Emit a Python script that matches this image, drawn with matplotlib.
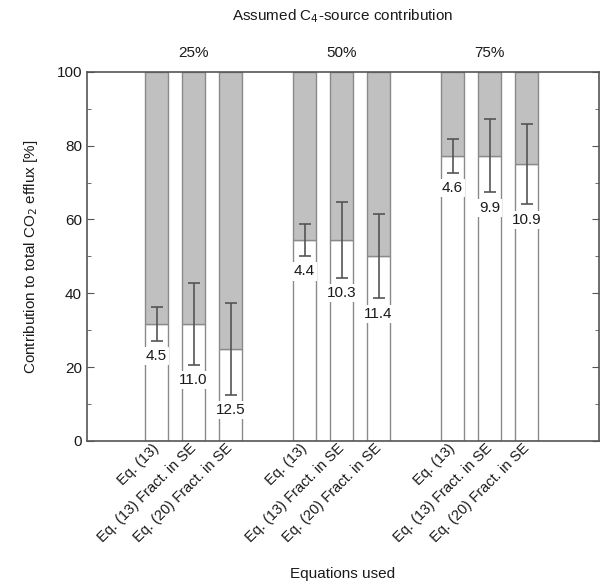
import matplotlib
matplotlib.use('Agg')
import matplotlib.pyplot as plt
from matplotlib.ticker import MultipleLocator

plt.rcParams['font.family'] = ['Liberation Sans', 'DejaVu Sans']

groups = ['25%', '50%', '75%']
eq_labels = ['Eq. (13)', 'Eq. (13) Fract. in SE', 'Eq. (20) Fract. in SE']
# C4 contribution per bar (white part), error = label value
values = [31.7, 31.7, 25.0, 54.5, 54.5, 50.0, 77.3, 77.3, 75.0]
errors = [4.5, 11.0, 12.5, 4.4, 10.3, 11.4, 4.6, 9.9, 10.9]
positions = [1, 2, 3, 5, 6, 7, 9, 10, 11]

fig = plt.figure(figsize=(6.04, 5.84), dpi=100)
ax = fig.add_axes([0.144, 0.245, 0.848, 0.632])

edge = '#8a8a8a'
width = 0.62
ax.bar(positions, values, width=width, color='white', edgecolor=edge, linewidth=1.0, zorder=2)
ax.bar(positions, [100 - v for v in values], bottom=values, width=width,
       color='#c0c0c0', edgecolor=edge, linewidth=1.0, zorder=2)
ax.errorbar(positions, values, yerr=errors, fmt='none', ecolor='#555555',
            elinewidth=1.2, capsize=4.3, capthick=1.2, zorder=3)

for p, v, e in zip(positions, values, errors):
    ax.text(p, v - e - 2.3, '%.1f' % e, ha='center', va='top', fontsize=11,
            color='#1a1a1a', zorder=4,
            bbox=dict(facecolor='white', edgecolor='none', pad=1.5))

for i, g in enumerate(groups):
    ax.text(positions[i * 3 + 1], 103.2, g, ha='center', va='bottom', fontsize=11,
            color='#1a1a1a', clip_on=False)
fig.text(0.567, 0.973, 'Assumed C$_4$-source contribution', ha='center', va='center',
         fontsize=11, color='#1a1a1a')

ax.set_xlim(-0.88, 12.96)
ax.set_ylim(0, 100)
ax.set_xticks(positions)
ax.set_xticklabels(eq_labels * 3, rotation=45, ha='right', va='center',
                   rotation_mode='anchor', fontsize=10.5, color='#1a1a1a')
ax.tick_params(axis='x', length=0, pad=4)
ax.yaxis.set_major_locator(MultipleLocator(20))
ax.yaxis.set_minor_locator(MultipleLocator(10))
ax.tick_params(axis='y', which='both', direction='in', right=True, labelsize=11,
               colors='#555555', labelcolor='#1a1a1a')
ax.tick_params(axis='y', which='major', length=5)
ax.tick_params(axis='y', which='minor', length=3)
for s in ax.spines.values():
    s.set_color('#555555')
    s.set_linewidth(1.2)

ax.set_ylabel('Contribution to total CO$_2$ efflux [%]', fontsize=11, color='#1a1a1a', labelpad=12)
fig.text(0.567, 0.017, 'Equations used', ha='center', va='center', fontsize=11, color='#1a1a1a')

fig.savefig('out.png', dpi=100)
